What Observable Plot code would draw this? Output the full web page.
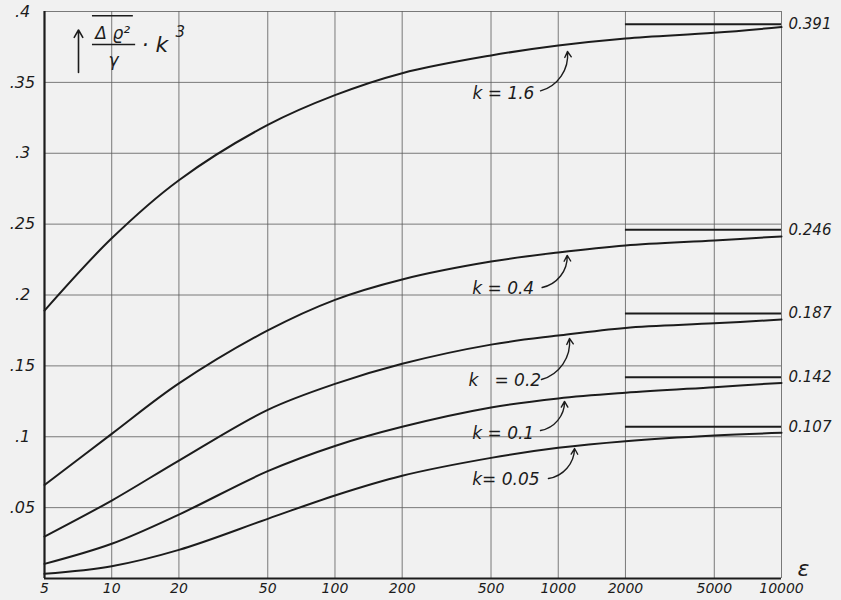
<!DOCTYPE html>
<html>
<head>
<meta charset="utf-8">
<script src="https://cdn.jsdelivr.net/npm/d3@7"></script>
<script src="https://cdn.jsdelivr.net/npm/@observablehq/plot@0.6"></script>
<style>
  html, body { margin: 0; padding: 0; background: #f1f1f1; }
  #chart svg { display: block; }
</style>
</head>
<body>
<div id="chart"></div>
<script>
// ---- data ----
const eps = [5, 10, 20, 50, 100, 200, 500, 1000, 2000, 5000, 10000];
const kNames = ["1.6", "0.4", "0.2", "0.1", "0.05"];
const k16  = [0.189, 0.240, 0.281, 0.320, 0.341, 0.3565, 0.369, 0.376, 0.381, 0.385, 0.389];
const k04  = [0.066, 0.102, 0.1376, 0.175, 0.1966, 0.211, 0.2236, 0.230, 0.235, 0.2385, 0.2413];
const k02  = [0.0296, 0.055, 0.0832, 0.119, 0.1373, 0.1515, 0.165, 0.1714, 0.1768, 0.180, 0.1827];
const k01  = [0.0103, 0.0245, 0.0451, 0.0757, 0.0935, 0.107, 0.1206, 0.127, 0.131, 0.135, 0.138];
const k005 = [0.0033, 0.0087, 0.0202, 0.0421, 0.0586, 0.0725, 0.0851, 0.0922, 0.0969, 0.1009, 0.1028];
const asymptotes = [0.391, 0.246, 0.187, 0.142, 0.107];
const asymLabels = ["0.391", "0.246", "0.187", "0.142", "0.107"];
const asymFrom = 2000, asymTo = 10000;

const xTicks = [5, 10, 20, 50, 100, 200, 500, 1000, 2000, 5000, 10000];
const xTickLabels = ["5", "10", "20", "50", "100", "200", "500", "1000", "2000", "5000", "10000"];
const yTicks = [0.05, 0.1, 0.15, 0.2, 0.25, 0.3, 0.35, 0.4];
const yTickLabels = [".05", ".1", ".15", ".2", ".25", ".3", ".35", ".4"];

// curve labels (text anchor point, arrow start, arrow end) in data units
const curveLabels = ["k = 1.6", "k = 0.4", "k   = 0.2", "k = 0.1", "k= 0.05"];
const labelX = [413, 412, 396, 412, 412];
const labelY = [0.342, 0.2046, 0.1397, 0.1025, 0.0698];
const arrowX1 = [833, 847, 841, 833, 904];
const arrowY1 = [0.344, 0.2053, 0.1404, 0.1044, 0.0705];
const arrowX2 = [1100, 1097, 1123, 1067, 1183];
const arrowY2 = [0.3718, 0.2279, 0.1693, 0.1249, 0.0917];

// ---- build tables ----
const allSeries = [k16, k04, k02, k01, k005];
const rows = [];
allSeries.forEach((vals, i) => vals.forEach((v, j) => rows.push({k: kNames[i], eps: eps[j], v})));
const asymRows = asymptotes.map((v, i) => ({y: v, x1: asymFrom, x2: asymTo, label: asymLabels[i]}));
const labRows = curveLabels.map((t, i) => ({
  text: t, x: labelX[i], y: labelY[i],
  x1: arrowX1[i], y1: arrowY1[i], x2: arrowX2[i], y2: arrowY2[i]
}));
const xTickRows = xTicks.map((v, i) => ({x: v, label: xTickLabels[i]}));

const ink = "#1c1c1c";
const gridC = "#5a5a5a";

const chart = Plot.plot({
  width: 841,
  height: 600,
  marginLeft: 44,
  marginRight: 60,
  marginTop: 11,
  marginBottom: 22,
  style: {background: "#f1f1f1", fontFamily: "DejaVu Sans", fontStyle: "italic", color: ink},
  x: {type: "log", domain: [5, 10000], axis: null},
  y: {domain: [0, 0.4]},
  marks: [
    Plot.ruleX(xTicks, {stroke: gridC, strokeWidth: 0.8}),
    Plot.ruleY(yTicks, {stroke: gridC, strokeWidth: 0.8}),
    Plot.ruleX([5], {stroke: ink, strokeWidth: 2.2}),
    Plot.ruleY([0], {stroke: ink, strokeWidth: 2.2}),
    Plot.text(xTickRows, {x: "x", frameAnchor: "bottom", text: "label", dy: 14, fontSize: 14, fill: ink}),
    Plot.axisY(yTicks, {tickSize: 0, tickPadding: 22, textAnchor: "middle", fontSize: 16, tickFormat: (d, i) => yTickLabels[i], label: null}),
    Plot.line(rows, {x: "eps", y: "v", z: "k", curve: "catmull-rom", stroke: ink, strokeWidth: 2}),
    Plot.ruleY(asymRows, {y: "y", x1: "x1", x2: "x2", stroke: ink, strokeWidth: 2}),
    Plot.text(asymRows, {x: "x2", y: "y", text: "label", dx: 7, textAnchor: "start", fontSize: 15}),
    Plot.text(labRows, {x: "x", y: "y", text: "text", textAnchor: "start", fontSize: 17}),
    Plot.arrow(labRows, {x1: "x1", y1: "y1", x2: "x2", y2: "y2", bend: -40, headLength: 7, stroke: ink, strokeWidth: 1.4}),
    // y-axis title: ↑ (Δϱ² overline / γ) · k³
    Plot.arrow([{x1: 7.1, y1: 0.357, x2: 7.1, y2: 0.387}], {x1: "x1", y1: "y1", x2: "x2", y2: "y2", headLength: 8, stroke: ink, strokeWidth: 1.6}),
    Plot.ruleY([{y: 0.397, x1: 8.2, x2: 12.5}], {y: "y", x1: "x1", x2: "x2", stroke: ink, strokeWidth: 1.6}),
    Plot.ruleY([{y: 0.3767, x1: 8.2, x2: 12.8}], {y: "y", x1: "x1", x2: "x2", stroke: ink, strokeWidth: 1.6}),
    Plot.text([{x: 10.1, y: 0.3845, t: "Δ ϱ²"}], {x: "x", y: "y", text: "t", fontSize: 17}),
    Plot.text([{x: 10.2, y: 0.3654, t: "γ"}], {x: "x", y: "y", text: "t", fontSize: 17}),
    Plot.text([{x: 13.6, y: 0.3767, t: "· k"}], {x: "x", y: "y", text: "t", textAnchor: "start", fontSize: 22}),
    Plot.text([{x: 20.3, y: 0.3855, t: "3"}], {x: "x", y: "y", text: "t", fontSize: 15}),
    // x-axis symbol
    Plot.text([{x: 10000, y: 0, t: "ε"}], {x: "x", y: "y", text: "t", dx: 22, dy: -10, fontSize: 22})
  ]
});
document.getElementById("chart").appendChild(chart);
</script>
</body>
</html>
